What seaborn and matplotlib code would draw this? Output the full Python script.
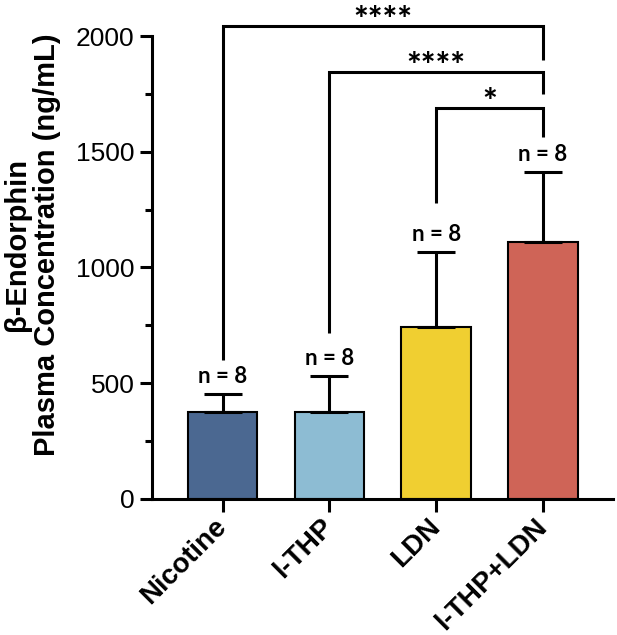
import pandas as pd
import seaborn as sns
import matplotlib.pyplot as plt
from matplotlib.ticker import MultipleLocator

# data (mean + SD, n = 8 per group)
groups = ['Nicotine', 'l-THP', 'LDN', 'l-THP+LDN']
means = [375, 375, 745, 1112]
sds = [78, 155, 322, 300]
n_per_group = [8, 8, 8, 8]
colors = ['#4b6891', '#8dbcd3', '#f0cf31', '#cf6457']

# significance brackets: (left group, right group, bracket height, left leg end, right leg end, stars)
br_left = [0, 1, 2]
br_right = [3, 3, 3]
br_height = [2045, 1845, 1690]
br_left_end = [600, 715, 1280]
br_right_end = [1895, 1750, 1565]
br_stars = ['****', '****', '*']

df = pd.DataFrame({'group': groups, 'mean': means, 'sd': sds})

sns.set_style('ticks')
plt.rcParams['font.family'] = ['Liberation Sans', 'DejaVu Sans']
plt.rcParams['text.color'] = 'black'
plt.rcParams['xtick.color'] = 'black'
plt.rcParams['ytick.color'] = 'black'
plt.rcParams['axes.labelcolor'] = 'black'
plt.rcParams['axes.edgecolor'] = 'black'

fig = plt.figure(figsize=(6.17, 6.35), dpi=100)
ax = fig.add_axes([0.2464, 0.2142, 0.7471, 0.7291])

sns.barplot(data=df, x='group', y='mean', hue='group', palette=colors, saturation=1,
            width=0.65, edgecolor='black', linewidth=1.5, legend=False, ax=ax)

# upward-only SD error bars
ax.errorbar(range(len(groups)), df['mean'], yerr=[[0] * len(groups), df['sd']],
            fmt='none', ecolor='black', elinewidth=2.2, capsize=14, capthick=2.2, zorder=3)

# n labels above the caps
for i, (m, s, n) in enumerate(zip(means, sds, n_per_group)):
    ax.annotate(f'n = {n}', (i, m + s), xytext=(0, 5), textcoords='offset points',
                ha='center', va='bottom', fontsize=16, fontweight='bold', family='Lato')

# brackets
for l, r, h, le, re, st in zip(br_left, br_right, br_height, br_left_end, br_right_end, br_stars):
    ax.plot([l, l, r, r], [le, h, h, re], color='black', lw=2.2, clip_on=False,
            solid_capstyle='butt', solid_joinstyle='miter')
    ax.annotate(st, ((l + r) / 2, h), xytext=(0, -4), textcoords='offset points',
                ha='center', va='baseline', fontsize=25, fontweight='black', family='Lato',
                annotation_clip=False)

ax.set_xlim(-0.66, 3.655)
ax.set_ylim(0, 2000)
ax.yaxis.set_major_locator(MultipleLocator(500))
ax.yaxis.set_minor_locator(MultipleLocator(250))
sns.despine(ax=ax)
for sp in ['left', 'bottom']:
    ax.spines[sp].set_linewidth(2.2)
ax.tick_params(axis='both', which='major', length=9, width=2.2, labelsize=19)
ax.tick_params(axis='x', which='major', pad=8)
ax.tick_params(axis='y', which='minor', length=5, width=2.2)

ax.set_xlabel('')
ax.set_xticks(range(len(groups)))
ax.set_xticklabels(groups, rotation=45, ha='right', va='center', rotation_mode='anchor',
                   fontweight='bold', fontsize=20)
ax.set_ylabel('β-Endorphin\nPlasma Concentration (ng/mL)', fontsize=21,
              fontweight='bold', linespacing=1.1)
ax.yaxis.set_label_coords(-0.198, 0.55)

fig.savefig('out.png', dpi=100)
